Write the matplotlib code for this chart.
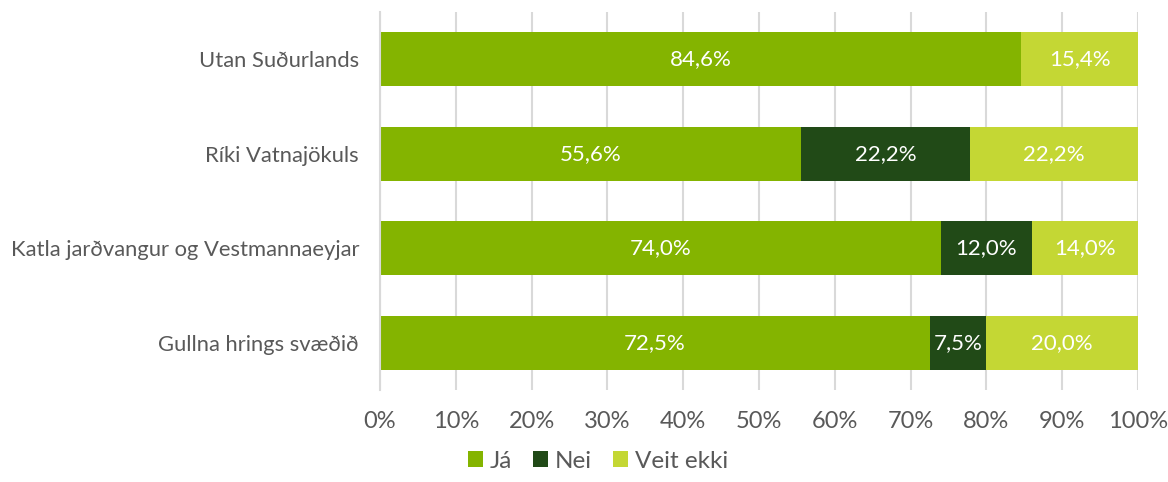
import matplotlib.pyplot as plt
from matplotlib.ticker import PercentFormatter

regions = ['Utan Suðurlands', 'Ríki Vatnajökuls',
           'Katla jarðvangur og Vestmannaeyjar', 'Gullna hrings svæðið']
ja = [84.6, 55.6, 74.0, 72.5]
nei = [0.0, 22.2, 12.0, 7.5]
veit_ekki = [15.4, 22.2, 14.0, 20.0]

series = [('Já', ja, '#84B400'), ('Nei', nei, '#214A17'), ('Veit ekki', veit_ekki, '#C4D734')]

plt.rcParams['font.family'] = ['Lato', 'DejaVu Sans']
grey = '#595959'

fig = plt.figure(figsize=(11.68, 4.82), dpi=100)
ax = fig.add_axes([0.3253, 0.191, 0.649, 0.784])

y = list(range(len(regions)))
left = [0.0] * len(regions)
for name, vals, col in series:
    bars = ax.barh(y, vals, left=left, height=0.57, color=col, label=name, zorder=2)
    for b, v in zip(bars, vals):
        if v > 0:
            ax.text(b.get_x() + b.get_width() / 2, b.get_y() + b.get_height() / 2,
                    f'{v:.1f}%'.replace('.', ','), ha='center', va='center',
                    color='white', fontsize=16)
    left = [l + v for l, v in zip(left, vals)]

ax.set_xlim(0, 100)
ax.set_ylim(len(regions) - 0.5, -0.5)
ax.set_yticks(y)
ax.set_yticklabels(regions)
ax.set_xticks(range(0, 101, 10))
ax.xaxis.set_major_formatter(PercentFormatter(decimals=0))
ax.tick_params(axis='both', length=0, colors=grey)
ax.tick_params(axis='x', pad=15, labelsize=17)
ax.tick_params(axis='y', pad=15, labelsize=15.8)
ax.grid(axis='x', color='#D9D9D9', linewidth=1.5, zorder=0)
for s in ['top', 'right', 'bottom']:
    ax.spines[s].set_visible(False)
ax.spines['left'].set_color('#D9D9D9')
ax.spines['left'].set_linewidth(1.5)

fig.legend(loc='lower center', bbox_to_anchor=(0.512, -0.004), ncol=3, frameon=False,
           fontsize=17.5, handlelength=0.62, handleheight=0.62, handletextpad=0.28,
           columnspacing=0.86, borderpad=0, labelcolor=grey)

fig.savefig('out.png', dpi=100)
